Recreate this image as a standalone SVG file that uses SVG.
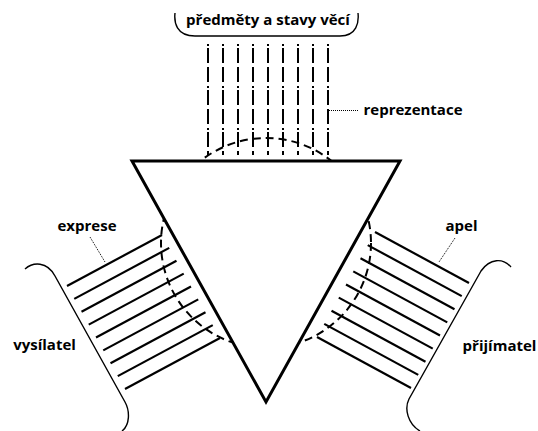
<svg xmlns="http://www.w3.org/2000/svg" width="538" height="431" viewBox="0 0 538 431">
<style>
.lbl{font-family:"Open Sans","Noto Sans","Liberation Sans",sans-serif;font-weight:bold;font-size:15px;fill:#000;text-anchor:middle}
.br{fill:none;stroke:#000;stroke-width:1.4}
.ln{stroke:#000;stroke-width:2.2;fill:none}
.vl{stroke:#000;stroke-width:2;fill:none;stroke-dasharray:2 2 15 4 15 4}
.dot{stroke:#000;stroke-width:1;fill:none;stroke-dasharray:1 1}
</style>
<rect width="538" height="431" fill="#fff"/>
<g id="connectors">
  <g id="representation-lines">
    <line class="vl" x1="208" y1="44" x2="208" y2="155"/>
    <line class="vl" x1="223" y1="44" x2="223" y2="155"/>
    <line class="vl" x1="238" y1="44" x2="238" y2="155"/>
    <line class="vl" x1="253" y1="44" x2="253" y2="155"/>
    <line class="vl" x1="268" y1="44" x2="268" y2="155"/>
    <line class="vl" x1="283" y1="44" x2="283" y2="155"/>
    <line class="vl" x1="298" y1="44" x2="298" y2="155"/>
    <line class="vl" x1="313" y1="44" x2="313" y2="155"/>
    <line class="vl" x1="328" y1="44" x2="328" y2="155"/>
  </g>
  <g id="expression-lines">
    <line class="ln" x1="162" y1="235" x2="67" y2="286"/>
    <line class="ln" x1="169.25" y1="247.875" x2="74.25" y2="298.875"/>
    <line class="ln" x1="176.5" y1="260.75" x2="81.5" y2="311.75"/>
    <line class="ln" x1="183.75" y1="273.625" x2="88.75" y2="324.625"/>
    <line class="ln" x1="191" y1="286.5" x2="96" y2="337.5"/>
    <line class="ln" x1="198.25" y1="299.375" x2="103.25" y2="350.375"/>
    <line class="ln" x1="205.5" y1="312.25" x2="110.5" y2="363.25"/>
    <line class="ln" x1="212.75" y1="325.125" x2="117.75" y2="376.125"/>
    <line class="ln" x1="220" y1="338" x2="125" y2="389"/>
  </g>
  <g id="appeal-lines">
    <line class="ln" x1="375" y1="232" x2="469" y2="283"/>
    <line class="ln" x1="367.75" y1="245.125" x2="461.75" y2="296.125"/>
    <line class="ln" x1="360.5" y1="258.25" x2="454.5" y2="309.25"/>
    <line class="ln" x1="353.25" y1="271.375" x2="447.25" y2="322.375"/>
    <line class="ln" x1="346" y1="284.5" x2="440" y2="335.5"/>
    <line class="ln" x1="338.75" y1="297.625" x2="432.75" y2="348.625"/>
    <line class="ln" x1="331.5" y1="310.75" x2="425.5" y2="361.75"/>
    <line class="ln" x1="324.25" y1="323.875" x2="418.25" y2="374.875"/>
    <line class="ln" x1="317" y1="337" x2="411" y2="388"/>
  </g>
  <g id="leaders">
    <line class="dot" x1="329" y1="110.5" x2="359" y2="110.5"/>
    <line class="dot" x1="90" y1="237" x2="105" y2="262"/>
    <line class="dot" x1="455" y1="238" x2="439" y2="262"/>
  </g>
</g>
<g id="circle">
  <circle cx="266" cy="243" r="105" fill="none" stroke="#000" stroke-width="2" stroke-dasharray="8 5"/>
</g>
<g id="triangle">
  <polygon points="132,161 400,161 266,402" fill="#fff" stroke="#000" stroke-width="3" stroke-linejoin="miter"/>
</g>
<g id="objects">
  <path class="br" d="M175,13 C174,22 176,36 195,36 L340,36 C357,36 359,22 358,13"/>
  <text class="lbl" x="268" y="25">předměty a stavy věcí</text>
</g>
<g id="sender">
  <path class="br" d="M25,269 C33,262 47,261 55,276 L125,402 C130,411 130,425 122,431"/>
  <text class="lbl" x="44.5" y="350">vysílatel</text>
</g>
<g id="receiver">
  <path class="br" d="M511,267 C503,258 490,258 481,271 L409,399 C404,409 408,424 420,431"/>
  <text class="lbl" x="499.5" y="351">přijímatel</text>
</g>
<g id="labels">
  <text class="lbl" x="413" y="115">reprezentace</text>
  <text class="lbl" x="87" y="231">exprese</text>
  <text class="lbl" x="461.5" y="231">apel</text>
</g>
</svg>
